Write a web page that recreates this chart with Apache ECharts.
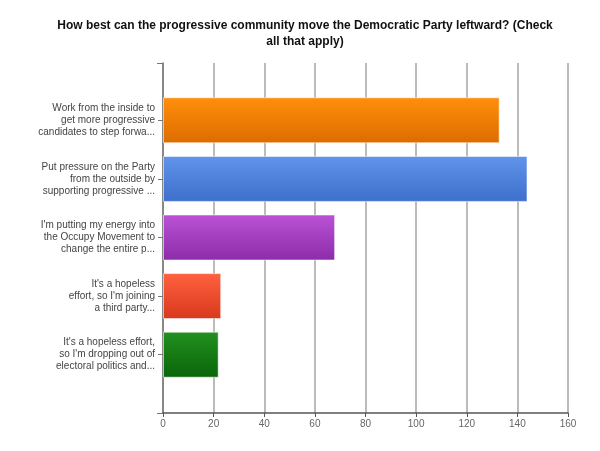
<!DOCTYPE html>
<html>
<head>
<meta charset="utf-8">
<script src="https://cdn.jsdelivr.net/npm/echarts@6/dist/echarts.min.js"></script>
<style>
  html, body { margin: 0; padding: 0; background: #fff; }
  #main { width: 600px; height: 451px; }
</style>
</head>
<body>
<div id="main"></div>
<script>
// answers, top to bottom
var answers = [
  "Work from the inside to\nget more progressive\ncandidates to step forwa...",
  "Put pressure on the Party\nfrom the outside by\nsupporting progressive ...",
  "I'm putting my energy into\nthe Occupy Movement to\nchange the entire p...",
  "It's a hopeless\neffort, so I'm joining\na third party...",
  "It's a hopeless effort,\nso I'm dropping out of\nelectoral politics and..."
];
var responses = [133, 144, 68, 23, 22];
var ticks = [0, 20, 40, 60, 80, 100, 120, 140, 160];

// top / bottom colour of each bar
var barColors = [
  ['#ff8f0a', '#dd6c00'],
  ['#6194ea', '#3d6fcb'],
  ['#bb52d6', '#8c2ca8'],
  ['#ff6140', '#d8391c'],
  ['#22901f', '#0a650a']
];

var chart = echarts.init(document.getElementById('main'));

var barData = responses.map(function (v, i) {
  return {
    value: v,
    itemStyle: {
      color: new echarts.graphic.LinearGradient(0, 0, 0, 1, [
        { offset: 0, color: barColors[i][0] },
        { offset: 1, color: barColors[i][1] }
      ]),
      borderColor: 'rgba(255,255,255,0.55)',
      borderWidth: 1
    }
  };
});

var option = {
  backgroundColor: '#fff',
  animation: false,
  title: {
    text: 'How best can the progressive community move the Democratic Party leftward? (Check\nall that apply)',
    left: 300,
    top: 13,
    textAlign: 'center',
    textStyle: {
      fontFamily: 'Liberation Sans',
      fontSize: 12,
      fontWeight: 'bold',
      color: '#111',
      lineHeight: 16
    }
  },
  grid: [
    { left: 163, right: 32, top: 63, bottom: 38 },
    { left: 163, right: 32, top: 91, bottom: 67 }
  ],
  xAxis: [
    {
      gridIndex: 0,
      type: 'value',
      min: ticks[0],
      max: ticks[ticks.length - 1],
      interval: 20,
      axisLine: { show: true, lineStyle: { color: '#555', width: 1.5 } },
      axisTick: { show: true, length: 4, lineStyle: { color: '#555' } },
      axisLabel: {
        color: '#666',
        fontFamily: 'Liberation Sans',
        fontSize: 10,
        margin: 6
      },
      splitLine: { show: true, lineStyle: { color: '#a4a4a4', width: 1.5 } }
    },
    {
      gridIndex: 1,
      type: 'value',
      min: ticks[0],
      max: ticks[ticks.length - 1],
      show: false
    }
  ],
  yAxis: [
    {
      gridIndex: 0,
      type: 'value',
      min: 0,
      max: 1,
      interval: 1,
      axisLine: { show: true, lineStyle: { color: '#777', width: 1.5 } },
      axisTick: { show: true, length: 6, lineStyle: { color: '#777' } },
      axisLabel: { show: false },
      splitLine: { show: false }
    },
    {
      gridIndex: 1,
      type: 'category',
      inverse: true,
      data: answers,
      axisLine: { show: false },
      axisTick: { show: true, alignWithLabel: true, length: 5, lineStyle: { color: '#777' } },
      axisLabel: {
        color: '#444',
        fontFamily: 'Liberation Sans',
        fontSize: 10,
        lineHeight: 12,
        margin: 8,
        align: 'right'
      }
    }
  ],
  series: [{
    name: 'Responses',
    type: 'bar',
    xAxisIndex: 1,
    yAxisIndex: 1,
    barWidth: 46,
    data: barData
  }]
};

chart.setOption(option);
</script>
</body>
</html>
